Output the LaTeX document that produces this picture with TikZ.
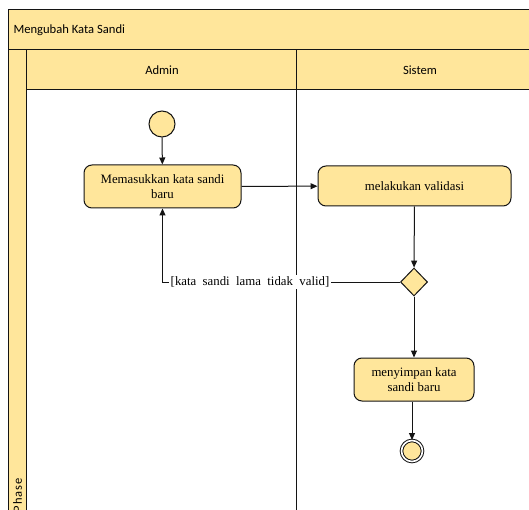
\documentclass[tikz,border=0pt]{standalone}
\usepackage{fontspec}
\setmainfont{Liberation Serif}
\newfontfamily\lanefont{Carlito}
\usetikzlibrary{arrows.meta,shapes.geometric}
\definecolor{swim}{RGB}{255,230,155}
\definecolor{ink}{RGB}{20,20,20}
\newcommand{\gap}{\hspace{0.5em}}
\tikzset{
  lane/.style={draw=ink, line width=1pt, fill=swim},
  lanetext/.style={font=\lanefont\fontsize{12.6}{14}\selectfont},
  action/.style={draw=ink, line width=1pt, fill=swim, rounded corners=8pt,
    align=center, font=\fontsize{12.8}{15.5}\selectfont, inner sep=0pt},
  startnode/.style={circle, draw=ink, line width=1pt, fill=swim, minimum size=26pt, inner sep=0pt},
  endnode/.style={circle, draw=ink, line width=1pt, fill=swim, double=white, double distance=1.6pt, minimum size=21pt, inner sep=0pt},
  decision/.style={diamond, draw=ink, line width=1pt, fill=swim, minimum width=27pt, minimum height=28pt, inner sep=0pt},
  flow/.style={draw=ink, line width=1pt, -{Triangle[length=7pt,width=6pt]}},
  guard/.style={fill=white, inner sep=1.5pt, font=\fontsize{12.8}{15}\selectfont}
}
\begin{document}
\begin{tikzpicture}[x=1pt,y=-1pt]
\useasboundingbox (0,0) rectangle (529,510);
\clip (0,0) rectangle (529,510);
\fill[white] (0,0) rectangle (529,510);
% pool and lanes
\draw[lane] (8,10) rectangle (545,50);
\node[anchor=west, lanetext] (title) at (10,30) {Mengubah Kata Sandi};
\draw[lane] (8,50) rectangle (26,530);
\draw[lane] (26,50) rectangle (296,90);
\draw[lane] (296,50) rectangle (545,90);
\draw[ink, line width=1pt] (26,90) -- (26,530);
\draw[ink, line width=1pt] (296,90) -- (296,530);
\node[lanetext] (admin) at (162,70) {Admin};
\node[lanetext] (sistem) at (420,70) {Sistem};
\node[rotate=90, anchor=east, inner sep=0pt, font=\lanefont\fontsize{12.5}{13}\selectfont] (phase) at (17.5,478) {P\kern1pt h\kern1pt a\kern1pt s\kern1pt e};
% activity nodes
\node[startnode] (start) at (162,124) {};
\node[action, minimum width=157pt, minimum height=43pt] (a1) at (162.5,186.5) {Memasukkan kata sandi\\baru};
\node[action, minimum width=193pt, minimum height=40pt] (a2) at (414.5,186) {melakukan validasi};
\node[decision] (d) at (414,282) {};
\node[action, minimum width=120pt, minimum height=43pt] (a3) at (414,379.5) {menyimpan kata\\sandi baru};
\node[endnode] (stop) at (412,451) {};
% flows
\draw[flow] (start) -- (a1);
\draw[flow] (a1) -- (a2);
\draw[flow] (a2) -- (d);
\draw[flow] (d) -- (d |- a3.north);
\draw[flow] (stop |- a3.south) -- (stop);
\draw[flow] (d.west) -- (a1.south |- d.west) -- (a1.south);
\node[guard] (glabel) at (250,282) {[kata\gap sandi\gap lama\gap tidak\gap valid]};
\end{tikzpicture}
\end{document}
